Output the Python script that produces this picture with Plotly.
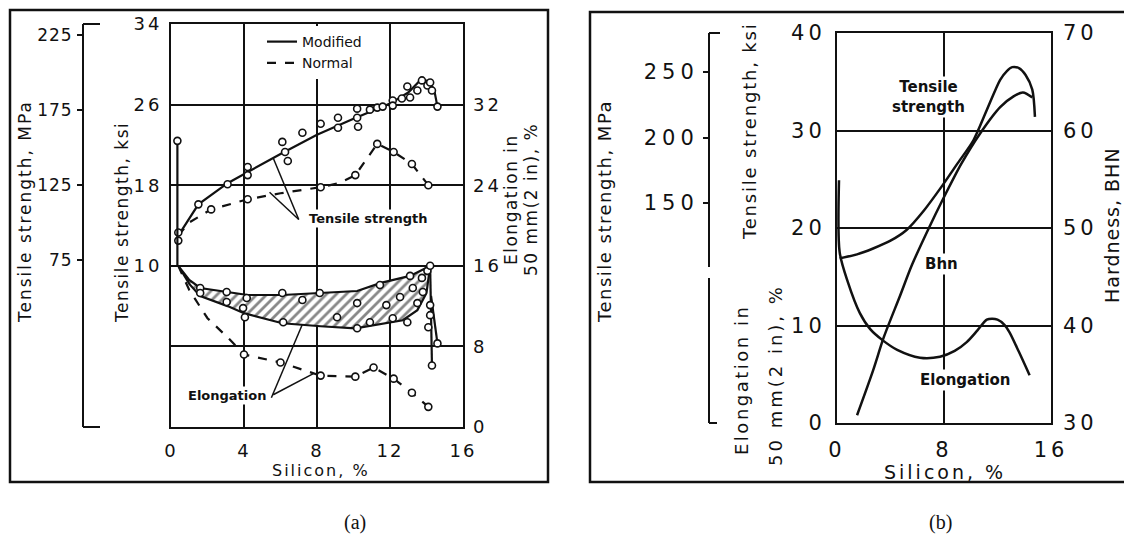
import plotly.graph_objects as go

W, H = 1124, 536
FONT = "DejaVu Sans"
INK = "#111111"


def px(x):
    return x / W


def py(y):
    return 1 - y / H


def spaced(text, ls):
    """Wide-set text (letter spacing in px)."""
    return f'<span style="letter-spacing:{ls}px">{text}</span>'


# ---------------- panel (a): Al-Si alloys, modified vs normal ----------------
# Tensile strength (ksi), modified alloy: fitted curve and measured points
a_mod_ts_si = [0.4, 1.5, 3.1, 4.2, 6.0, 8.0, 10.0, 12.0, 13.0, 13.7, 14.2, 14.45, 14.6]
a_mod_ts_ksi = [13.0, 16.1, 18.2, 19.3, 21.1, 23.0, 24.6, 26.1, 27.2, 28.5, 28.3, 27.2, 25.8]
a_mod_ts_pts_si = [0.4, 0.4, 1.5, 3.1, 4.2, 4.2, 6.1, 6.25, 6.4, 7.2, 8.2, 9.15, 9.15, 10.2, 10.2,
                   10.25, 10.9, 11.3, 11.6, 12.15, 12.15, 12.65, 12.95, 13.1, 13.5, 13.75, 14.05,
                   14.2, 14.3, 14.6]
a_mod_ts_pts_ksi = [13.3, 12.5, 16.1, 18.1, 19.8, 19.0, 22.3, 21.3, 20.4, 23.2, 24.1, 24.7, 23.7,
                    25.6, 24.7, 23.8, 25.5, 25.7, 25.8, 26.4, 25.9, 26.6, 27.8, 26.7, 27.4, 28.4,
                    27.9, 28.2, 27.4, 25.8]

# Tensile strength (ksi), normal alloy
a_nor_ts_si = [0.4, 1.0, 2.2, 4.2, 6.0, 8.2, 9.2, 10.1, 11.3, 12.2, 13.2, 14.1]
a_nor_ts_ksi = [13.0, 14.3, 15.6, 16.6, 17.2, 17.8, 18.2, 19.0, 22.1, 21.3, 20.1, 18.0]
a_nor_ts_pts_si = [2.2, 4.2, 8.2, 10.1, 11.3, 12.2, 13.2, 14.1]
a_nor_ts_pts_ksi = [15.6, 16.6, 17.8, 19.0, 22.1, 21.3, 20.1, 18.0]

# Elongation (%), modified alloy: scatter band (upper / lower bounds) and points
a_mod_el_hi_si = [0.4, 1.0, 1.6, 3.1, 4.2, 6.1, 8.2, 10.2, 11.5, 13.1, 14.0, 14.2]
a_mod_el_hi = [16.0, 14.6, 13.8, 13.4, 13.1, 13.1, 13.3, 13.5, 14.3, 15.0, 15.8, 16.0]
a_mod_el_lo_si = [0.4, 1.0, 1.6, 3.1, 4.0, 6.1, 8.2, 10.1, 12.7, 13.5, 14.0, 14.2]
a_mod_el_lo = [16.0, 14.2, 13.0, 12.0, 11.3, 10.3, 10.0, 9.8, 10.6, 11.6, 13.3, 16.0]
a_mod_el_pts_si = [0.35, 1.6, 1.6, 3.05, 3.05, 3.95, 4.05, 4.15, 6.1, 6.15, 7.2, 8.15, 9.1, 10.2,
                   10.2, 10.9, 11.45, 11.8, 12.15, 12.55, 12.95, 13.1, 13.25, 13.5, 13.75, 13.8,
                   14.05, 14.2, 14.2, 14.2, 14.1, 14.6, 14.3]
a_mod_el_pts = [28.4, 13.8, 13.3, 13.4, 12.4, 11.8, 10.9, 12.8, 13.3, 10.4, 12.6, 13.3, 10.9, 12.3,
                9.8, 10.4, 14.1, 12.1, 10.8, 12.9, 10.4, 15.0, 13.8, 12.3, 14.8, 13.4, 15.5,
                16.0, 12.1, 11.1, 9.9, 8.3, 6.1]
a_mod_el_start_si = [0.35, 0.35]
a_mod_el_start = [28.4, 16.0]
a_mod_el_drop_si = [14.2, 14.25, 14.3]
a_mod_el_drop = [16.0, 10.0, 6.1]
a_mod_el_drop2_si = [14.25, 14.6]
a_mod_el_drop2 = [13.0, 8.3]

# Elongation (%), normal alloy
a_nor_el_si = [0.4, 1.0, 2.0, 3.1, 4.0, 6.0, 8.2, 10.1, 11.1, 12.2, 13.2, 14.1]
a_nor_el = [16.0, 13.6, 10.8, 8.9, 7.2, 6.4, 5.1, 5.0, 5.9, 4.8, 3.4, 2.0]
a_nor_el_pts_si = [4.0, 6.0, 8.2, 10.1, 11.1, 12.2, 13.2, 14.1]
a_nor_el_pts = [7.2, 6.4, 5.1, 5.0, 5.9, 4.8, 3.4, 2.0]

# axis ticks, panel (a)
a_x_ticks = [0, 4, 8, 12, 16]
a_ksi_ticks = [10, 18, 26, 34]
a_el_ticks = [0, 8, 16, 24, 32]
a_mpa_ticks = [75, 125, 175, 225]

# ---------------- panel (b): tensile strength, hardness, elongation ----------------
b_ts_si = [0.2, 1.5, 2.7, 4.0, 5.2, 6.5, 7.9, 9.0, 10.2, 11.2, 12.2, 12.7, 13.1, 13.6, 14.1, 14.6, 14.8]
b_ts_ksi = [16.9, 17.3, 17.9, 18.7, 19.8, 21.8, 24.4, 26.6, 29.0, 32.1, 35.2, 36.1, 36.5, 36.4, 35.7, 34.2, 31.4]
b_bhn_si = [1.5, 2.7, 3.5, 4.7, 5.6, 6.8, 7.9, 9.3, 10.7, 12.2, 13.2, 13.9, 14.6]
b_bhn = [30.8, 35.4, 38.8, 43.0, 46.2, 49.8, 52.9, 56.6, 59.7, 62.4, 63.5, 63.9, 63.4]
b_el_si = [0.15, 0.2, 0.8, 1.7, 2.5, 3.4, 4.5, 6.2, 7.7, 8.8, 9.7, 10.5, 11.2, 11.6, 12.0, 12.5, 12.9, 13.6, 14.4]
b_el = [24.9, 17.5, 14.5, 11.3, 9.6, 8.5, 7.5, 6.7, 6.8, 7.4, 8.3, 9.5, 10.6, 10.7, 10.6, 10.1, 9.3, 7.3, 4.9]

b_x_ticks = [0, 8, 16]
b_left_ticks = [0, 10, 20, 30, 40]
b_bhn_ticks = [30, 40, 50, 60, 70]
b_mpa_ticks = [150, 200, 250]

fig = go.Figure()

line_black = dict(color=INK, width=2.2)
marker_open = dict(symbol="circle", size=7, color="white", line=dict(color=INK, width=1.6))

# hatched band of modified elongation
fig.add_trace(go.Scatter(
    x=a_mod_el_hi_si + a_mod_el_lo_si[::-1], y=a_mod_el_hi + a_mod_el_lo[::-1],
    xaxis="x", yaxis="y2", mode="lines", fill="toself", fillcolor="white",
    fillpattern=dict(shape="/", fgcolor=INK, bgcolor="white", size=7, solidity=0.4),
    line=dict(color=INK, width=2.2), showlegend=False, hoverinfo="skip"))
fig.add_trace(go.Scatter(x=a_mod_el_start_si, y=a_mod_el_start, xaxis="x", yaxis="y2",
                         mode="lines", line=line_black, showlegend=False))
fig.add_trace(go.Scatter(x=a_mod_el_drop_si, y=a_mod_el_drop, xaxis="x", yaxis="y2",
                         mode="lines", line=line_black, showlegend=False))
fig.add_trace(go.Scatter(x=a_mod_el_drop2_si, y=a_mod_el_drop2, xaxis="x", yaxis="y2",
                         mode="lines", line=line_black, showlegend=False))
fig.add_trace(go.Scatter(x=a_nor_el_si, y=a_nor_el, xaxis="x", yaxis="y2", mode="lines",
                         line=dict(color=INK, width=2.2, dash="dash"), showlegend=False))

# tensile strength curves (these carry the legend)
fig.add_trace(go.Scatter(x=a_mod_ts_si, y=a_mod_ts_ksi, xaxis="x", yaxis="y", mode="lines",
                         line=line_black, name="Modified", showlegend=True))
fig.add_trace(go.Scatter(x=a_nor_ts_si, y=a_nor_ts_ksi, xaxis="x", yaxis="y", mode="lines",
                         line=dict(color=INK, width=2.2, dash="dash"), name="Normal", showlegend=True))

# measured points
for xs, ys, ax in [(a_mod_ts_pts_si, a_mod_ts_pts_ksi, "y"), (a_nor_ts_pts_si, a_nor_ts_pts_ksi, "y"),
                   (a_mod_el_pts_si, a_mod_el_pts, "y2"), (a_nor_el_pts_si, a_nor_el_pts, "y2")]:
    fig.add_trace(go.Scatter(x=xs, y=ys, xaxis="x", yaxis=ax, mode="markers",
                             marker=marker_open, showlegend=False))

# panel (b) curves
for xs, ys, ax in [(b_ts_si, b_ts_ksi, "y4"), (b_bhn_si, b_bhn, "y5"), (b_el_si, b_el, "y4")]:
    fig.add_trace(go.Scatter(x=xs, y=ys, xaxis="x2", yaxis=ax, mode="lines",
                             line=dict(color=INK, width=2.5, shape="spline", smoothing=0.8),
                             showlegend=False))

# the MPa scales carry no data of their own; empty traces make them drawn
fig.add_trace(go.Scatter(x=[], y=[], xaxis="x", yaxis="y3", showlegend=False, hoverinfo="skip"))
fig.add_trace(go.Scatter(x=[], y=[], xaxis="x2", yaxis="y6", showlegend=False, hoverinfo="skip"))

tick_font_a = dict(family=FONT, size=18, color=INK)
tick_font_mpa = dict(family=FONT, size=17, color=INK)
tick_font_b = dict(family=FONT, size=21, color=INK)
grid = dict(showgrid=True, gridcolor=INK, gridwidth=2, zeroline=False, automargin=False)
nogrid = dict(showgrid=False, zeroline=False, automargin=False)


def ticks(vals, ls):
    return dict(tickvals=vals, ticktext=[spaced(v, ls) for v in vals])


# panel (a): ksi and elongation scales share the grid (elongation = ksi + 6)
a_ksi_range = [-6, 34]
a_el_range = [0, 40]
a_mpa_range = [-36.3, 232.3]
b_mpa_range = [-17.9, 279.8]

fig.update_layout(
    width=W, height=H, margin=dict(l=0, r=0, t=0, b=0, autoexpand=False),
    paper_bgcolor="white", plot_bgcolor="white",
    font=dict(family=FONT, color=INK),
    xaxis=dict(domain=[px(171), px(463)], range=[0, 16], anchor="y", **ticks(a_x_ticks, 2),
               showline=True, mirror=True, linecolor=INK, linewidth=2, ticks="",
               tickfont=tick_font_a, ticklabelstandoff=6, **grid),
    yaxis=dict(domain=[py(427), py(24)], range=a_ksi_range, anchor="x", **ticks(a_ksi_ticks, 3),
               showline=True, mirror=True, linecolor=INK, linewidth=2, ticks="",
               tickfont=tick_font_a, ticklabelstandoff=3, **grid),
    yaxis2=dict(overlaying="y", side="right", anchor="x", range=a_el_range, **ticks(a_el_ticks, 3),
                showline=False, ticks="", tickfont=tick_font_a, ticklabelstandoff=9, **grid),
    yaxis3=dict(overlaying="y", side="left", anchor="free", position=px(83), range=a_mpa_range,
                **ticks(a_mpa_ticks, 1), showline=True, linecolor=INK, linewidth=2, ticks="outside",
                ticklen=5, tickwidth=2, tickcolor=INK, tickfont=tick_font_mpa,
                ticklabelstandoff=1, **nogrid),
    xaxis2=dict(domain=[px(837), px(1051)], range=[0, 16], anchor="y4", **ticks(b_x_ticks, 4),
                showline=True, mirror=True, linecolor=INK, linewidth=2, ticks="",
                tickfont=tick_font_b, ticklabelstandoff=7, **grid),
    yaxis4=dict(domain=[py(423), py(33)], range=[0, 40], anchor="x2", **ticks(b_left_ticks, 4),
                showline=True, mirror=True, linecolor=INK, linewidth=2, ticks="",
                tickfont=tick_font_b, ticklabelstandoff=5, **grid),
    yaxis5=dict(overlaying="y4", side="right", anchor="x2", range=[30, 70], **ticks(b_bhn_ticks, 4),
                showline=False, ticks="", tickfont=tick_font_b, ticklabelstandoff=11, **nogrid),
    yaxis6=dict(overlaying="y4", side="left", anchor="free", position=px(709), range=b_mpa_range,
                **ticks(b_mpa_ticks, 5), showline=True, linecolor=INK, linewidth=2, ticks="outside",
                ticklen=5, tickwidth=2, tickcolor=INK, tickfont=tick_font_b,
                ticklabelstandoff=0, **nogrid),
    legend=dict(x=px(262), y=py(26), xanchor="left", yanchor="top", bgcolor="white",
                font=dict(family=FONT, size=14, color=INK), itemwidth=30, tracegroupgap=0,
                borderwidth=0),
)

# frames and axis brackets
shapes = [
    dict(type="rect", xref="paper", yref="paper", x0=px(10), x1=px(548), y0=py(482), y1=py(10),
         line=dict(color=INK, width=2.5)),
    dict(type="rect", xref="paper", yref="paper", x0=px(590), x1=px(1140), y0=py(482), y1=py(12),
         line=dict(color=INK, width=2.5)),
    dict(type="line", xref="paper", yref="paper", x0=px(83), x1=px(100), y0=py(24), y1=py(24),
         line=dict(color=INK, width=2)),
    dict(type="line", xref="paper", yref="paper", x0=px(83), x1=px(100), y0=py(427), y1=py(427),
         line=dict(color=INK, width=2)),
    dict(type="line", xref="paper", yref="paper", x0=px(709), x1=px(720), y0=py(33), y1=py(33),
         line=dict(color=INK, width=2)),
    dict(type="line", xref="paper", yref="paper", x0=px(709), x1=px(717), y0=py(423), y1=py(423),
         line=dict(color=INK, width=2)),
    # break between the MPa bracket and the elongation bracket, panel (b)
    dict(type="rect", xref="paper", yref="paper", x0=px(705), x1=px(713), y0=py(278), y1=py(267),
         line=dict(width=0), fillcolor="white"),
    # leader lines from the curve labels, panel (a)
    dict(type="line", xref="x", yref="y", x0=7.0, y0=14.6, x1=5.6, y1=20.7, line=dict(color=INK, width=1.5)),
    dict(type="line", xref="x", yref="y", x0=7.0, y0=14.6, x1=5.4, y1=17.3, line=dict(color=INK, width=1.5)),
    dict(type="line", xref="x", yref="y2", x0=5.5, y0=2.9, x1=7.2, y1=10.2, line=dict(color=INK, width=1.5)),
    dict(type="line", xref="x", yref="y2", x0=5.6, y0=3.2, x1=7.8, y1=5.3, line=dict(color=INK, width=1.5)),
]
fig.update_layout(shapes=shapes)


def label(x, y, text, size, angle=0, bg=None, family=FONT, bold=False, ls=0):
    body = spaced(text, ls) if ls else text
    return dict(xref="paper", yref="paper", x=px(x), y=py(y), text=body, showarrow=False,
                textangle=angle, xanchor="center", yanchor="middle",
                font=dict(family=family, size=size, color=INK, weight="bold" if bold else "normal"),
                bgcolor=bg, borderpad=1)


annotations = [
    # panel (a)
    label(25, 212, "Tensile strength, MPa", 17, -90, ls=2),
    label(122, 223, "Tensile strength, ksi", 17, -90, ls=1.5),
    label(511, 200, "Elongation in", 17, -90, ls=1.5),
    label(531, 200, "50 mm(2 in), %", 17, -90, ls=1.5),
    label(321, 470, "Silicon, %", 16, ls=2),
    label(368, 218, "Tensile strength", 13, bg="white", bold=True),
    label(227, 395, "Elongation", 13, bg="white", bold=True),
    label(355, 522, "(a)", 20, family="Liberation Serif"),
    # panel (b)
    label(605, 212, "Tensile strength, MPa", 18, -90, ls=1.5),
    label(750, 132, "Tensile strength, ksi", 18, -90, ls=1.8),
    label(741, 380, "Elongation in", 18, -90, ls=2.5),
    label(775, 375, "50 mm(2 in), %", 18, -90, ls=3),
    label(1112, 225, "Hardness, BHN", 19, -90, ls=1),
    label(945, 472, "Silicon, %", 19, ls=3),
    label(928, 97, "Tensile<br>strength", 15, bg="white", bold=True),
    label(941, 264, "Bhn", 15, bg="white", bold=True),
    label(965, 380, "Elongation", 15, bg="white", bold=True),
    label(940, 522, "(b)", 20, family="Liberation Serif"),
]
fig.update_layout(annotations=annotations)

fig.write_html("out.html")
